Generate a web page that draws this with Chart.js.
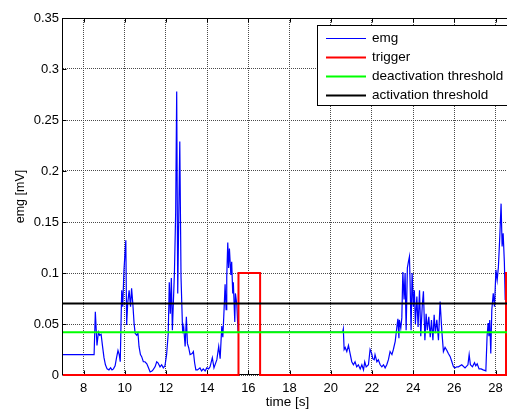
<!DOCTYPE html>
<html>
<head>
<meta charset="utf-8">
<title>emg</title>
<script src="https://cdn.jsdelivr.net/npm/chart.js@4.4.0/dist/chart.umd.min.js"></script>
<style>
html, body { margin: 0; padding: 0; background: #fff; overflow: hidden; }
#wrap { width: 507px; height: 409px; overflow: hidden; }
</style>
</head>
<body>
<div id="wrap"><canvas id="emgChart" width="515" height="409"></canvas></div>
<script>
// time axis [s]
var xMin = 7;
var xMax = 28.8;
var xTicks = [8, 10, 12, 14, 16, 18, 20, 22, 24, 26, 28];
var yTicks = [0, 0.05, 0.1, 0.15, 0.2, 0.25, 0.3, 0.35];

var emgTime = [
    7, 8.51, 8.57, 8.65, 8.72, 8.78, 8.85, 8.92, 8.99, 9.06,
    9.14, 9.23, 9.31, 9.38, 9.45, 9.53, 9.6, 9.67, 9.73, 9.78,
    9.85, 9.9, 9.96, 10.05, 10.09, 10.14, 10.21, 10.28, 10.33, 10.39,
    10.45, 10.5, 10.58, 10.64, 10.69, 10.76, 10.82, 10.9, 10.98, 11.07,
    11.13, 11.23, 11.32, 11.37, 11.47, 11.55, 11.61, 11.71, 11.79, 11.87,
    11.95, 12.03, 12.11, 12.16, 12.21, 12.26, 12.31, 12.41, 12.47, 12.52,
    12.57, 12.67, 12.73, 12.81, 12.86, 12.93, 12.99, 13.04, 13.1, 13.17,
    13.27, 13.33, 13.39, 13.45, 13.53, 13.65, 13.73, 13.81, 13.9, 13.98,
    14.07, 14.14, 14.25, 14.33, 14.47, 14.56, 14.63, 14.71, 14.76, 14.82,
    14.87, 14.92, 14.95, 15, 15.04, 15.08, 15.15, 15.19, 15.24, 15.27,
    15.34, 15.37, 15.44, 15.5, 20.58, 20.61, 20.65, 20.7, 20.78, 20.86,
    20.94, 21.02, 21.1, 21.18, 21.26, 21.34, 21.43, 21.51, 21.59, 21.65,
    21.72, 21.83, 21.91, 21.99, 22.04, 22.11, 22.15, 22.24, 22.31, 22.4,
    22.48, 22.56, 22.64, 22.72, 22.8, 22.88, 22.97, 23.04, 23.13, 23.21,
    23.26, 23.31, 23.33, 23.4, 23.45, 23.5, 23.56, 23.61, 23.66, 23.72,
    23.77, 23.82, 23.85, 23.9, 23.95, 24.01, 24.06, 24.11, 24.18, 24.24,
    24.31, 24.37, 24.44, 24.5, 24.57, 24.63, 24.69, 24.76, 24.83, 24.89,
    24.96, 25.02, 25.08, 25.15, 25.23, 25.31, 25.39, 25.47, 25.55, 25.64,
    25.71, 25.8, 25.88, 25.96, 26.04, 26.12, 26.2, 26.36, 26.52, 26.66,
    26.72, 26.78, 26.88, 26.98, 27.04, 27.11, 27.2, 27.3, 27.4, 27.53,
    27.59, 27.64, 27.68, 27.72, 27.77, 27.82, 27.89, 27.95, 28.02, 28.08,
    28.14, 28.21, 28.27, 28.32, 28.37, 28.43, 28.47, 28.5, 28.54, 28.6
];
// emg [mV]
var emgValue = [
    0.02, 0.02, 0.062, 0.029, 0.042, 0.039, 0.04, 0.028, 0.017, 0.01,
    0.006, 0.005, 0.007, 0.005, 0.006, 0.009, 0.017, 0.024, 0.02, 0.013,
    0.083, 0.067, 0.103, 0.132, 0.049, 0.07, 0.083, 0.067, 0.085, 0.07,
    0.051, 0.041, 0.039, 0.041, 0.028, 0.02, 0.018, 0.013, 0.013, 0.011,
    0.008, 0.003, 0.004, 0.005, 0.008, 0.013, 0.012, 0.008, 0.01, 0.007,
    0.009, 0.02, 0.041, 0.091, 0.06, 0.095, 0.044, 0.1, 0.159, 0.278,
    0.08, 0.229, 0.096, 0.041, 0.047, 0.028, 0.057, 0.031, 0.027, 0.02,
    0.021, 0.023, 0.012, 0.005, 0.005, 0.007, 0.004, 0.006, 0.004, 0.007,
    0.006, 0.008, 0.017, 0.007, 0.015, 0.028, 0.016, 0.048, 0.037, 0.064,
    0.089, 0.064, 0.096, 0.13, 0.105, 0.124, 0.098, 0.111, 0.08, 0.091,
    0.052, 0.08, 0.069, 0.042, 0.042, 0.045, 0.025, 0.027, 0.023, 0.029,
    0.021, 0.013, 0.01, 0.013, 0.008, 0.01, 0.006, 0.01, 0.005, 0.013,
    0.008, 0.01, 0.025, 0.021, 0.016, 0.015, 0.02, 0.013, 0.015, 0.01,
    0.008, 0.01, 0.007, 0.01, 0.015, 0.023, 0.02, 0.025, 0.033, 0.047,
    0.055, 0.036, 0.054, 0.046, 0.056, 0.101, 0.074, 0.1, 0.044, 0.105,
    0.111, 0.116, 0.093, 0.044, 0.1, 0.067, 0.083, 0.05, 0.077, 0.047,
    0.083, 0.038, 0.067, 0.082, 0.034, 0.06, 0.044, 0.057, 0.037, 0.054,
    0.034, 0.059, 0.041, 0.054, 0.034, 0.072, 0.044, 0.023, 0.027, 0.024,
    0.021, 0.018, 0.013, 0.008, 0.007, 0.008, 0.008, 0.01, 0.007, 0.01,
    0.02, 0.01, 0.008, 0.012, 0.009, 0.011, 0.006, 0.006, 0.005, 0.004,
    0.038, 0.051, 0.038, 0.054, 0.021, 0.064, 0.08, 0.067, 0.103, 0.093,
    0.106, 0.137, 0.168, 0.126, 0.139, 0.11, 0.074, 0.077, 0.052, 0.065
];

var triggerTime = [7, 15.52, 15.52, 16.57, 16.57, 28.51, 28.51, 28.8];
var triggerValue = [0, 0, 0.1, 0.1, 0, 0, 0.1, 0.1];

var deactivationThreshold = 0.042;
var activationThreshold = 0.07;

var FONT = "'Liberation Sans', Arial, Helvetica, sans-serif";

function toPoints(xs, ys) {
    var pts = [];
    for (var i = 0; i < xs.length; i++) {
        pts.push({x: xs[i], y: ys[i]});
    }
    return pts;
}

function flatLine(v) {
    return [{x: xMin, y: v}, {x: xMax, y: v}];
}

// matlab style box with inward ticks, drawn under the lines
var axesBox = {
    id: 'axesBox',
    beforeDatasetsDraw: function(chart) {
        var ctx = chart.ctx;
        var a = chart.chartArea;
        var xs = chart.scales.x, ys = chart.scales.y;
        ctx.save();
        ctx.strokeStyle = '#000';
        ctx.lineWidth = 1;
        var l = Math.round(a.left) - 0.5, t = Math.round(a.top) + 0.5;
        var r = Math.round(a.right) - 0.5, b = Math.round(a.bottom) - 0.5;
        ctx.strokeRect(l, t, r - l, b - t);
        ctx.beginPath();
        xTicks.forEach(function(v) {
            var px = Math.round(xs.getPixelForValue(v)) + 0.5;
            ctx.moveTo(px, b); ctx.lineTo(px, b - 4);
            ctx.moveTo(px, t); ctx.lineTo(px, t + 4);
        });
        yTicks.forEach(function(v) {
            var py = Math.round(ys.getPixelForValue(v)) + 0.5;
            ctx.moveTo(l, py); ctx.lineTo(l + 4, py);
            ctx.moveTo(r, py); ctx.lineTo(r - 4, py);
        });
        ctx.stroke();
        ctx.restore();
    },
    afterDraw: function(chart) {
        var ctx = chart.ctx;
        var a = chart.chartArea;
        ctx.save();
        var bx = a.right - 195, by = a.top + 7, bw = 190, bh = 80;
        ctx.fillStyle = '#fff';
        ctx.fillRect(bx, by, bw, bh);
        ctx.strokeStyle = '#000';
        ctx.lineWidth = 1;
        ctx.strokeRect(bx + 0.5, by + 0.5, bw, bh);
        ctx.font = '13.5px ' + FONT;
        ctx.textBaseline = 'middle';
        chart.data.datasets.forEach(function(ds, i) {
            var y = Math.round(by + 13 + i * 19) + 0.5;
            ctx.strokeStyle = ds.borderColor;
            ctx.lineWidth = ds.borderWidth;
            ctx.beginPath();
            ctx.moveTo(bx + 9, y);
            ctx.lineTo(bx + 49, y);
            ctx.stroke();
            ctx.fillStyle = '#000';
            ctx.fillText(ds.label, bx + 55, y);
        });
        ctx.restore();
    }
};

function drawChart() {
    var ctx = document.getElementById('emgChart').getContext('2d');
    new Chart(ctx, {
        type: 'line',
        data: {
            datasets: [{
                label: 'emg',
                data: toPoints(emgTime, emgValue),
                borderColor: '#0000ff',
                borderWidth: 1.2,
                order: 4
            }, {
                label: 'trigger',
                data: toPoints(triggerTime, triggerValue),
                borderColor: '#ff0000',
                borderWidth: 2,
                order: 3
            }, {
                label: 'deactivation threshold',
                data: flatLine(deactivationThreshold),
                borderColor: '#00ff00',
                borderWidth: 2,
                order: 2
            }, {
                label: 'activation threshold',
                data: flatLine(activationThreshold),
                borderColor: '#000000',
                borderWidth: 2,
                order: 1
            }]
        },
        options: {
            responsive: false,
            animation: false,
            devicePixelRatio: 1,
            clip: false,
            layout: {padding: {left: 0, top: 18, right: 3, bottom: 0}},
            elements: {
                point: {radius: 0, hoverRadius: 0},
                line: {tension: 0, fill: false}
            },
            plugins: {
                legend: {display: false},
                tooltip: {enabled: false}
            },
            scales: {
                x: {
                    type: 'linear',
                    min: xMin,
                    max: xMax,
                    afterBuildTicks: function(scale) {
                        scale.ticks = xTicks.map(function(v) { return {value: v}; });
                    },
                    afterFit: function(scale) { scale.height = 34; },
                    grid: {color: '#4a4a4a', lineWidth: 1, drawTicks: false},
                    border: {display: false, dash: [1, 1]},
                    ticks: {
                        color: '#000',
                        padding: 6,
                        maxRotation: 0,
                        font: {family: FONT, size: 13},
                        callback: function(v) { return String(v); }
                    },
                    title: {
                        display: true,
                        text: 'time [s]',
                        color: '#000',
                        font: {family: FONT, size: 13.5},
                        padding: {top: 0, bottom: -1}
                    }
                },
                y: {
                    min: 0,
                    max: 0.35,
                    afterBuildTicks: function(scale) {
                        scale.ticks = yTicks.map(function(v) { return {value: v}; });
                    },
                    afterFit: function(scale) { scale.width = 63; },
                    grid: {color: '#4a4a4a', lineWidth: 1, drawTicks: false},
                    border: {display: false, dash: [1, 1]},
                    ticks: {
                        color: '#000',
                        padding: 4,
                        font: {family: FONT, size: 13},
                        callback: function(v) { return String(+v.toFixed(2)); }
                    },
                    title: {
                        display: true,
                        text: 'emg [mV]',
                        color: '#000',
                        font: {family: FONT, size: 12.5},
                        padding: {top: 13, bottom: 0}
                    }
                }
            }
        },
        plugins: [axesBox]
    });
}

drawChart();
</script>
</body>
</html>
